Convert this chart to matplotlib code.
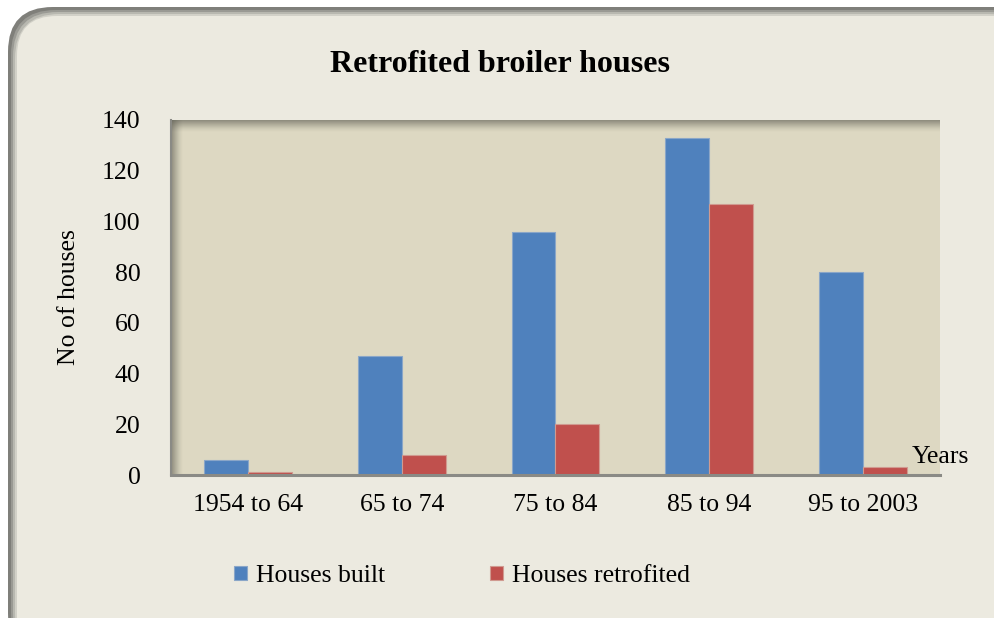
import matplotlib
matplotlib.use("Agg")
import matplotlib.pyplot as plt
import numpy as np
from matplotlib.patches import FancyBboxPatch

categories = ["1954 to 64", "65 to 74", "75 to 84", "85 to 94", "95 to 2003"]
houses_built = [6, 47, 96, 133, 80]
houses_retrofitted = [1, 8, 20, 107, 3]
yticks = [0, 20, 40, 60, 80, 100, 120, 140]

plt.rcParams['font.family'] = ['Liberation Serif', 'DejaVu Serif']

W, H = 995, 618
fig = plt.figure(figsize=(W / 100, H / 100), dpi=100)
fig.patch.set_facecolor('white')

# outer rounded frame with grey shadowy border
for i, (pad, col) in enumerate([(0, '#7f7f7a'), (3, '#9a9a94'), (5, '#b8b8b0'), (7, '#d2d1c8')]):
    x0 = (8 + pad) / W
    y0 = -40 / H
    w = (1040 - pad) / W - x0
    h = (H - 7 - pad) / H - y0
    fig.patches.append(FancyBboxPatch((x0, y0), w, h,
                                      boxstyle="round,pad=0,rounding_size=0.045",
                                      transform=fig.transFigure, facecolor=col,
                                      edgecolor='none', zorder=-10 + i,
                                      mutation_aspect=W / H))
x0 = 17 / W
fig.patches.append(FancyBboxPatch((x0, -40 / H), 1040 / W - x0, (H - 16) / H + 40 / H,
                                  boxstyle="round,pad=0,rounding_size=0.04",
                                  transform=fig.transFigure, facecolor='#ECEAE0',
                                  edgecolor='none', zorder=-5, mutation_aspect=W / H))

ax = fig.add_axes([171 / W, 1 - 475 / H, 769 / W, 355 / H])
ax.set_facecolor('#DDD8C2')

x = np.arange(len(categories))
bw = 0.286
ax.bar(x - bw / 2, houses_built, bw, color='#4F81BD', edgecolor='#8aa6c8', linewidth=0.8,
       label='Houses built', zorder=3)
ax.bar(x + bw / 2, houses_retrofitted, bw, color='#C0504D', edgecolor='#d09a90', linewidth=0.8,
       label='Houses retrofited', zorder=3)

ax.set_xlim(-0.5, len(categories) - 0.5)
ax.set_ylim(0, 140)
ax.set_yticks(yticks)
ax.set_yticklabels([str(v) for v in yticks], fontsize=18.5)
ax.set_xticks(x)
ax.set_xticklabels(categories, fontsize=18.5)
ax.tick_params(axis='both', length=0, pad=14)
ax.tick_params(axis='y', pad=22)

for s in ['top', 'right']:
    ax.spines[s].set_visible(False)
ax.spines['left'].set_color('#8a8a85')
ax.spines['left'].set_linewidth(1.5)
ax.spines['bottom'].set_color('#8a8a85')
ax.spines['bottom'].set_linewidth(2.2)
ax.spines['bottom'].set_zorder(5)

# inner shadow at top and left of plot area
for k in range(12):
    a = 0.45 * (1 - k / 12) ** 1.5
    ax.axhline(140 - k * 0.4, color='#5a5a50', alpha=a, linewidth=1.2, zorder=1)
    ax.axvline(-0.5 + k * 0.0065, color='#5a5a50', alpha=a, linewidth=1.2, zorder=1)

ax.set_ylabel('No of houses', fontsize=18.5, labelpad=16)
ax.text(1.0, 7, 'Years', transform=ax.get_yaxis_transform(), fontsize=18.5,
        ha='center', va='center')

fig.text(500 / W, 1 - 64 / H, 'Retrofited broiler houses', fontsize=23,
         fontweight='bold', ha='center', va='center')

handles, labels = ax.get_legend_handles_labels()
fig.legend(handles, labels, loc='center', bbox_to_anchor=(462 / W, 1 - 576 / H),
           ncol=2, frameon=False, fontsize=18.5, handlelength=0.5, handleheight=0.5,
           handletextpad=0.35, columnspacing=4.1)

fig.savefig('out.png', dpi=100, facecolor=fig.get_facecolor())
